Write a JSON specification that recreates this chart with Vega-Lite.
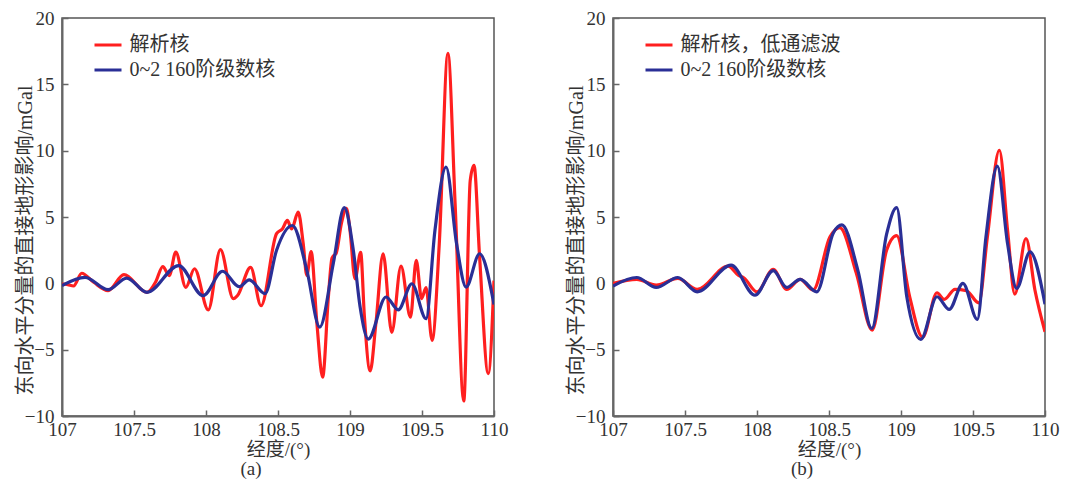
{
  "$schema": "https://vega.github.io/schema/vega-lite/v6.json",
  "padding": {"left": 14, "top": 8, "right": 2, "bottom": 5},
  "spacing": 56,
  "background": "white",
  "config": {
    "font": "Liberation Serif, Noto Sans CJK SC",
    "view": {"stroke": "#555", "strokeWidth": 1.5},
    "axis": {
      "grid": false,
      "domainColor": "#666",
      "domainWidth": 2,
      "tickColor": "#666",
      "tickWidth": 1.5,
      "tickSize": -6,
      "labelFont": "Liberation Serif",
      "labelFontSize": 19,
      "labelColor": "#333",
      "labelFlush": false,
      "titleFont": "Liberation Serif, Noto Sans CJK SC",
      "titleFontSize": 19,
      "titleFontWeight": "normal",
      "titleColor": "#333"
    },
    "legend": {
      "orient": "none",
      "title": null,
      "padding": 0,
      "symbolType": "M-1.35,0H1.35",
      "symbolSize": 400,
      "symbolStrokeWidth": 3,
      "symbolFillColor": "transparent",
      "labelFont": "Liberation Serif, Noto Sans CJK SC",
      "labelFontSize": 20,
      "labelColor": "#333",
      "labelOffset": 10,
      "rowPadding": 3,
      "legendX": 34.5,
      "legendY": 15.5
    },
    "title": {"font": "Liberation Serif", "fontSize": 19, "fontWeight": "normal", "color": "#333"}
  },
  "datasets": {
    "a": [
      {"lon": 107.0, "val": -0.05, "s": "解析核"},
      {"lon": 107.04, "val": -0.1, "s": "解析核"},
      {"lon": 107.08, "val": -0.2, "s": "解析核"},
      {"lon": 107.137, "val": 0.76, "s": "解析核"},
      {"lon": 107.22, "val": 0.08, "s": "解析核"},
      {"lon": 107.32, "val": -0.55, "s": "解析核"},
      {"lon": 107.43, "val": 0.66, "s": "解析核"},
      {"lon": 107.59, "val": -0.68, "s": "解析核"},
      {"lon": 107.65, "val": 0.1, "s": "解析核"},
      {"lon": 107.70, "val": 1.26, "s": "解析核"},
      {"lon": 107.745, "val": 0.58, "s": "解析核"},
      {"lon": 107.79, "val": 2.35, "s": "解析核"},
      {"lon": 107.86, "val": -0.3, "s": "解析核"},
      {"lon": 107.92, "val": 1.1, "s": "解析核"},
      {"lon": 108.016, "val": -2.0, "s": "解析核"},
      {"lon": 108.10, "val": 2.54, "s": "解析核"},
      {"lon": 108.19, "val": -1.16, "s": "解析核"},
      {"lon": 108.22, "val": -0.9, "s": "解析核"},
      {"lon": 108.31, "val": 1.21, "s": "解析核"},
      {"lon": 108.382, "val": -1.69, "s": "解析核"},
      {"lon": 108.49, "val": 3.75, "s": "解析核"},
      {"lon": 108.53, "val": 4.1, "s": "解析核"},
      {"lon": 108.565, "val": 4.74, "s": "解析核"},
      {"lon": 108.595, "val": 4.1, "s": "解析核"},
      {"lon": 108.64, "val": 5.37, "s": "解析核"},
      {"lon": 108.675, "val": 3.0, "s": "解析核"},
      {"lon": 108.70, "val": 0.6, "s": "解析核"},
      {"lon": 108.73, "val": 2.4, "s": "解析核"},
      {"lon": 108.77, "val": -3.0, "s": "解析核"},
      {"lon": 108.81, "val": -7.07, "s": "解析核"},
      {"lon": 108.85, "val": -1.0, "s": "解析核"},
      {"lon": 108.875, "val": 1.9, "s": "解析核"},
      {"lon": 108.905, "val": 2.3, "s": "解析核"},
      {"lon": 108.94, "val": 4.5, "s": "解析核"},
      {"lon": 108.975, "val": 5.65, "s": "解析核"},
      {"lon": 109.0, "val": 4.0, "s": "解析核"},
      {"lon": 109.035, "val": 0.33, "s": "解析核"},
      {"lon": 109.074, "val": 2.34, "s": "解析核"},
      {"lon": 109.10, "val": -2.5, "s": "解析核"},
      {"lon": 109.14, "val": -6.6, "s": "解析核"},
      {"lon": 109.18, "val": -3.0, "s": "解析核"},
      {"lon": 109.23, "val": 2.22, "s": "解析核"},
      {"lon": 109.29, "val": -3.7, "s": "解析核"},
      {"lon": 109.354, "val": 1.3, "s": "解析核"},
      {"lon": 109.42, "val": -2.55, "s": "解析核"},
      {"lon": 109.46, "val": 1.73, "s": "解析核"},
      {"lon": 109.497, "val": -1.15, "s": "解析核"},
      {"lon": 109.528, "val": -0.33, "s": "解析核"},
      {"lon": 109.57, "val": -4.3, "s": "解析核"},
      {"lon": 109.62, "val": 3.0, "s": "解析核"},
      {"lon": 109.68, "val": 17.34, "s": "解析核"},
      {"lon": 109.73, "val": 6.0, "s": "解析核"},
      {"lon": 109.79, "val": -8.87, "s": "解析核"},
      {"lon": 109.835, "val": 7.76, "s": "解析核"},
      {"lon": 109.861, "val": 8.9, "s": "解析核"},
      {"lon": 109.90, "val": 2.0, "s": "解析核"},
      {"lon": 109.96, "val": -6.8, "s": "解析核"},
      {"lon": 110.0, "val": 0.2, "s": "解析核"},
      {"lon": 107.0, "val": -0.17, "s": "0~2 160阶级数核"},
      {"lon": 107.16, "val": 0.45, "s": "0~2 160阶级数核"},
      {"lon": 107.32, "val": -0.48, "s": "0~2 160阶级数核"},
      {"lon": 107.45, "val": 0.4, "s": "0~2 160阶级数核"},
      {"lon": 107.59, "val": -0.68, "s": "0~2 160阶级数核"},
      {"lon": 107.81, "val": 1.34, "s": "0~2 160阶级数核"},
      {"lon": 107.98, "val": -0.93, "s": "0~2 160阶级数核"},
      {"lon": 108.115, "val": 0.91, "s": "0~2 160阶级数核"},
      {"lon": 108.23, "val": -0.25, "s": "0~2 160阶级数核"},
      {"lon": 108.30, "val": 0.26, "s": "0~2 160阶级数核"},
      {"lon": 108.41, "val": -0.78, "s": "0~2 160阶级数核"},
      {"lon": 108.49, "val": 2.5, "s": "0~2 160阶级数核"},
      {"lon": 108.60, "val": 4.36, "s": "0~2 160阶级数核"},
      {"lon": 108.70, "val": 1.0, "s": "0~2 160阶级数核"},
      {"lon": 108.79, "val": -3.3, "s": "0~2 160阶级数核"},
      {"lon": 108.884, "val": 1.5, "s": "0~2 160阶级数核"},
      {"lon": 108.96, "val": 5.7, "s": "0~2 160阶级数核"},
      {"lon": 109.023, "val": 2.5, "s": "0~2 160阶级数核"},
      {"lon": 109.07, "val": -1.77, "s": "0~2 160阶级数核"},
      {"lon": 109.127, "val": -4.2, "s": "0~2 160阶级数核"},
      {"lon": 109.25, "val": -1.03, "s": "0~2 160阶级数核"},
      {"lon": 109.335, "val": -2.0, "s": "0~2 160阶级数核"},
      {"lon": 109.43, "val": -0.03, "s": "0~2 160阶级数核"},
      {"lon": 109.528, "val": -2.67, "s": "0~2 160阶级数核"},
      {"lon": 109.59, "val": 4.0, "s": "0~2 160阶级数核"},
      {"lon": 109.667, "val": 8.77, "s": "0~2 160阶级数核"},
      {"lon": 109.74, "val": 3.0, "s": "0~2 160阶级数核"},
      {"lon": 109.806, "val": -0.28, "s": "0~2 160阶级数核"},
      {"lon": 109.90, "val": 2.23, "s": "0~2 160阶级数核"},
      {"lon": 110.0, "val": -1.6, "s": "0~2 160阶级数核"}
    ],
    "b": [
      {"lon": 107.0, "val": 0.0, "s": "解析核，低通滤波"},
      {"lon": 107.165, "val": 0.3, "s": "解析核，低通滤波"},
      {"lon": 107.30, "val": -0.13, "s": "解析核，低通滤波"},
      {"lon": 107.45, "val": 0.37, "s": "解析核，低通滤波"},
      {"lon": 107.585, "val": -0.46, "s": "解析核，低通滤波"},
      {"lon": 107.80, "val": 1.3, "s": "解析核，低通滤波"},
      {"lon": 107.87, "val": 0.62, "s": "解析核，低通滤波"},
      {"lon": 107.91, "val": 0.4, "s": "解析核，低通滤波"},
      {"lon": 108.0, "val": -0.64, "s": "解析核，低通滤波"},
      {"lon": 108.113, "val": 1.05, "s": "解析核，低通滤波"},
      {"lon": 108.206, "val": -0.46, "s": "解析核，低通滤波"},
      {"lon": 108.30, "val": 0.3, "s": "解析核，低通滤波"},
      {"lon": 108.39, "val": -0.5, "s": "解析核，低通滤波"},
      {"lon": 108.507, "val": 3.5, "s": "解析核，低通滤波"},
      {"lon": 108.575, "val": 4.2, "s": "解析核，低通滤波"},
      {"lon": 108.69, "val": 0.75, "s": "解析核，低通滤波"},
      {"lon": 108.80, "val": -3.52, "s": "解析核，低通滤波"},
      {"lon": 108.90, "val": 2.5, "s": "解析核，低通滤波"},
      {"lon": 108.97, "val": 3.6, "s": "解析核，低通滤波"},
      {"lon": 109.06, "val": -1.0, "s": "解析核，低通滤波"},
      {"lon": 109.15, "val": -4.07, "s": "解析核，低通滤波"},
      {"lon": 109.25, "val": -0.71, "s": "解析核，低通滤波"},
      {"lon": 109.30, "val": -1.21, "s": "解析核，低通滤波"},
      {"lon": 109.375, "val": -0.46, "s": "解析核，低通滤波"},
      {"lon": 109.455, "val": -0.56, "s": "解析核，低通滤波"},
      {"lon": 109.54, "val": -1.47, "s": "解析核，低通滤波"},
      {"lon": 109.60, "val": 3.5, "s": "解析核，低通滤波"},
      {"lon": 109.683, "val": 10.03, "s": "解析核，低通滤波"},
      {"lon": 109.74, "val": 4.0, "s": "解析核，低通滤波"},
      {"lon": 109.79, "val": -0.81, "s": "解析核，低通滤波"},
      {"lon": 109.868, "val": 3.38, "s": "解析核，低通滤波"},
      {"lon": 109.93, "val": -0.5, "s": "解析核，低通滤波"},
      {"lon": 110.0, "val": -3.65, "s": "解析核，低通滤波"},
      {"lon": 107.0, "val": -0.2, "s": "0~2 160阶级数核"},
      {"lon": 107.165, "val": 0.44, "s": "0~2 160阶级数核"},
      {"lon": 107.30, "val": -0.31, "s": "0~2 160阶级数核"},
      {"lon": 107.45, "val": 0.44, "s": "0~2 160阶级数核"},
      {"lon": 107.585, "val": -0.64, "s": "0~2 160阶级数核"},
      {"lon": 107.82, "val": 1.37, "s": "0~2 160阶级数核"},
      {"lon": 107.986, "val": -0.89, "s": "0~2 160阶级数核"},
      {"lon": 108.113, "val": 0.96, "s": "0~2 160阶级数核"},
      {"lon": 108.206, "val": -0.31, "s": "0~2 160阶级数核"},
      {"lon": 108.30, "val": 0.3, "s": "0~2 160阶级数核"},
      {"lon": 108.415, "val": -0.64, "s": "0~2 160阶级数核"},
      {"lon": 108.53, "val": 3.8, "s": "0~2 160阶级数核"},
      {"lon": 108.59, "val": 4.4, "s": "0~2 160阶级数核"},
      {"lon": 108.70, "val": 1.0, "s": "0~2 160阶级数核"},
      {"lon": 108.797, "val": -3.4, "s": "0~2 160阶级数核"},
      {"lon": 108.90, "val": 3.7, "s": "0~2 160阶级数核"},
      {"lon": 108.97, "val": 5.7, "s": "0~2 160阶级数核"},
      {"lon": 109.04, "val": -1.0, "s": "0~2 160阶级数核"},
      {"lon": 109.137, "val": -4.23, "s": "0~2 160阶级数核"},
      {"lon": 109.25, "val": -1.01, "s": "0~2 160阶级数核"},
      {"lon": 109.335, "val": -1.97, "s": "0~2 160阶级数核"},
      {"lon": 109.43, "val": 0.0, "s": "0~2 160阶级数核"},
      {"lon": 109.53, "val": -2.72, "s": "0~2 160阶级数核"},
      {"lon": 109.59, "val": 3.5, "s": "0~2 160阶级数核"},
      {"lon": 109.669, "val": 8.83, "s": "0~2 160阶级数核"},
      {"lon": 109.74, "val": 3.0, "s": "0~2 160阶级数核"},
      {"lon": 109.803, "val": -0.39, "s": "0~2 160阶级数核"},
      {"lon": 109.896, "val": 2.37, "s": "0~2 160阶级数核"},
      {"lon": 110.0, "val": -1.57, "s": "0~2 160阶级数核"}
    ]
  },
  "resolve": {"scale": {"color": "independent"}, "legend": {"color": "independent"}},
  "hconcat": [
    {
      "width": 432,
      "height": 398,
      "data": {"name": "a"},
      "title": {"text": "(a)", "orient": "bottom", "anchor": "middle", "frame": "group", "dx": -27, "offset": 1},
      "mark": {"type": "line", "interpolate": "monotone", "strokeWidth": 3.2, "clip": true},
      "encoding": {
        "x": {"field": "lon", "type": "quantitative", "scale": {"domain": [107, 110], "nice": false, "zero": false},
          "axis": {"title": "经度/(°)", "format": "~g", "values": [107, 107.5, 108, 108.5, 109, 109.5, 110], "labelPadding": 10, "titlePadding": 1}},
        "y": {"field": "val", "type": "quantitative", "scale": {"domain": [-10, 20], "nice": false, "zero": false},
          "axis": {"title": "东向水平分量的直接地形影响/mGal", "titleFontSize": 20, "values": [-10, -5, 0, 5, 10, 15, 20], "labelPadding": 14, "titleX": -37, "titleY": 222, "titleBaseline": "middle"}},
        "color": {"field": "s", "type": "nominal", "sort": null,
          "scale": {"domain": ["解析核", "0~2 160阶级数核"], "range": ["#ff1f1f", "#2a2f96"]}}
      }
    },
    {
      "width": 432,
      "height": 398,
      "data": {"name": "b"},
      "title": {"text": "(b)", "orient": "bottom", "anchor": "middle", "frame": "group", "dx": -27, "offset": 1},
      "mark": {"type": "line", "interpolate": "monotone", "strokeWidth": 3.2, "clip": true},
      "encoding": {
        "x": {"field": "lon", "type": "quantitative", "scale": {"domain": [107, 110], "nice": false, "zero": false},
          "axis": {"title": "经度/(°)", "format": "~g", "values": [107, 107.5, 108, 108.5, 109, 109.5, 110], "labelPadding": 10, "titlePadding": 1}},
        "y": {"field": "val", "type": "quantitative", "scale": {"domain": [-10, 20], "nice": false, "zero": false},
          "axis": {"title": "东向水平分量的直接地形影响/mGal", "titleFontSize": 20, "values": [-10, -5, 0, 5, 10, 15, 20], "labelPadding": 14, "titleX": -37, "titleY": 222, "titleBaseline": "middle"}},
        "color": {"field": "s", "type": "nominal", "sort": null,
          "scale": {"domain": ["解析核，低通滤波", "0~2 160阶级数核"], "range": ["#ff1f1f", "#2a2f96"]}}
      }
    }
  ]
}
